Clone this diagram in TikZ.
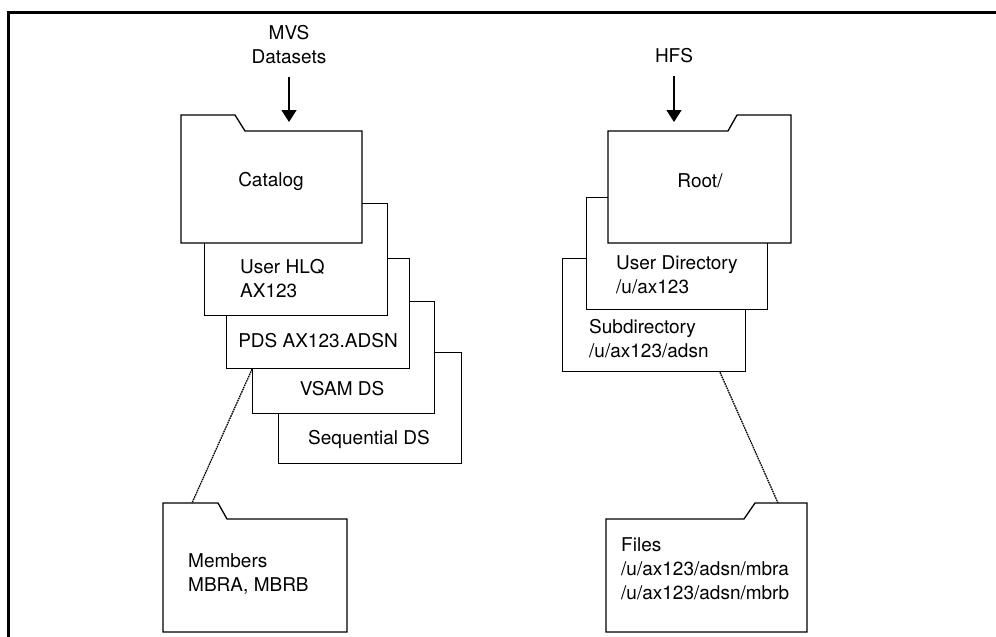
\documentclass[tikz,border=0pt]{standalone}
\usepackage{fontspec}
\setmainfont{TeX Gyre Heros}
\usetikzlibrary{arrows.meta,calc}
\begin{document}
\begin{tikzpicture}[x=1pt,y=-1pt,
  box/.style={draw, fill=white, line width=1.3pt, inner sep=0pt, anchor=north west},
  folder/.style={draw, fill=white, line width=1.3pt, line join=miter},
  lbl/.style={inner sep=0pt, font=\fontsize{19}{24}\selectfont, align=left},
  link/.style={line width=1.3pt, dash pattern=on 1.6pt off 0.8pt},
  feed/.style={line width=1.3pt, -{Triangle[width=15pt,length=12pt]}},
  frame/.style={line width=3pt}]
\useasboundingbox (0,0) rectangle (996,637);

% outer frame (open to the right and bottom)
\draw[frame] (8,650) -- (8,12) -- (1010,12);

% ---------- MVS side ----------
\node[lbl, align=center] (mvs) at (289,45) {MVS\\Datasets};

\node[box, minimum width=183pt, minimum height=111pt] (seq) at (278,352) {};
\node[lbl, anchor=center] (seqt) at (369,439) {Sequential DS};

\node[box, minimum width=182pt, minimum height=112pt] (vsam) at (252,301) {};
\node[lbl, anchor=center] (vsamt) at (342,389) {VSAM DS};

\node[box, minimum width=183pt, minimum height=110pt] (pds) at (226,258) {};
\node[lbl, anchor=center] (pdst) at (318,341) {PDS AX123.ADSN};

\node[box, minimum width=183pt, minimum height=112pt] (hlq) at (204,203) {};
\node[lbl, anchor=west] (hlqt) at (240,279) {User HLQ\\AX123};

% catalog folder
\draw[folder] (181,243) -- (181,115) -- (235,115) -- (245,131) -- (362,131) -- (362,243) -- cycle;
\coordinate (cattop) at (289,131);
\node[lbl, anchor=center] (catt) at (271,181) {Catalog};

\draw[feed] ([yshift=-13pt]mvs.south) -- ([yshift=9pt]cattop);

% members folder
\draw[folder] (163,632) -- (163,503) -- (218,503) -- (227,519) -- (347,519) -- (347,632) -- cycle;
\coordinate (memtop) at (192,503);
\node[lbl, anchor=west] (memt) at (188,574) {Members\\MBRA, MBRB};

\draw[link] (pds.south -| vsam.west) -- (memtop);

% ---------- HFS side ----------
\node[lbl] (hfs) at (674,56) {HFS};

\node[box, minimum width=183pt, minimum height=113pt] (sub) at (562,258) {};
\node[lbl, anchor=west] (subt) at (589,339) {Subdirectory\\/u/ax123/adsn};

\node[box, minimum width=181pt, minimum height=112pt] (udir) at (586,197) {};
\node[lbl, anchor=west] (udirt) at (616,275) {User Directory\\/u/ax123};

% root folder
\draw[folder] (608,243) -- (608,131) -- (728,131) -- (737,115) -- (791,115) -- (791,243) -- cycle;
\coordinate (roottop) at (674,131);
\node[lbl, anchor=center] (roott) at (700,181) {Root/};

\draw[feed] ([yshift=-13pt]hfs.south) -- ([yshift=9pt]roottop);

% files folder
\draw[folder] (606,632) -- (606,519) -- (744,519) -- (755,503) -- (807,503) -- (807,632) -- cycle;
\coordinate (filestop) at (778,503);
\node[lbl, anchor=west] (filest) at (621,569) {Files\\/u/ax123/adsn/mbra\\/u/ax123/adsn/mbrb};

\draw[link] ($(sub.south west)+(158,0)$) -- (filestop);
\end{tikzpicture}
\end{document}
